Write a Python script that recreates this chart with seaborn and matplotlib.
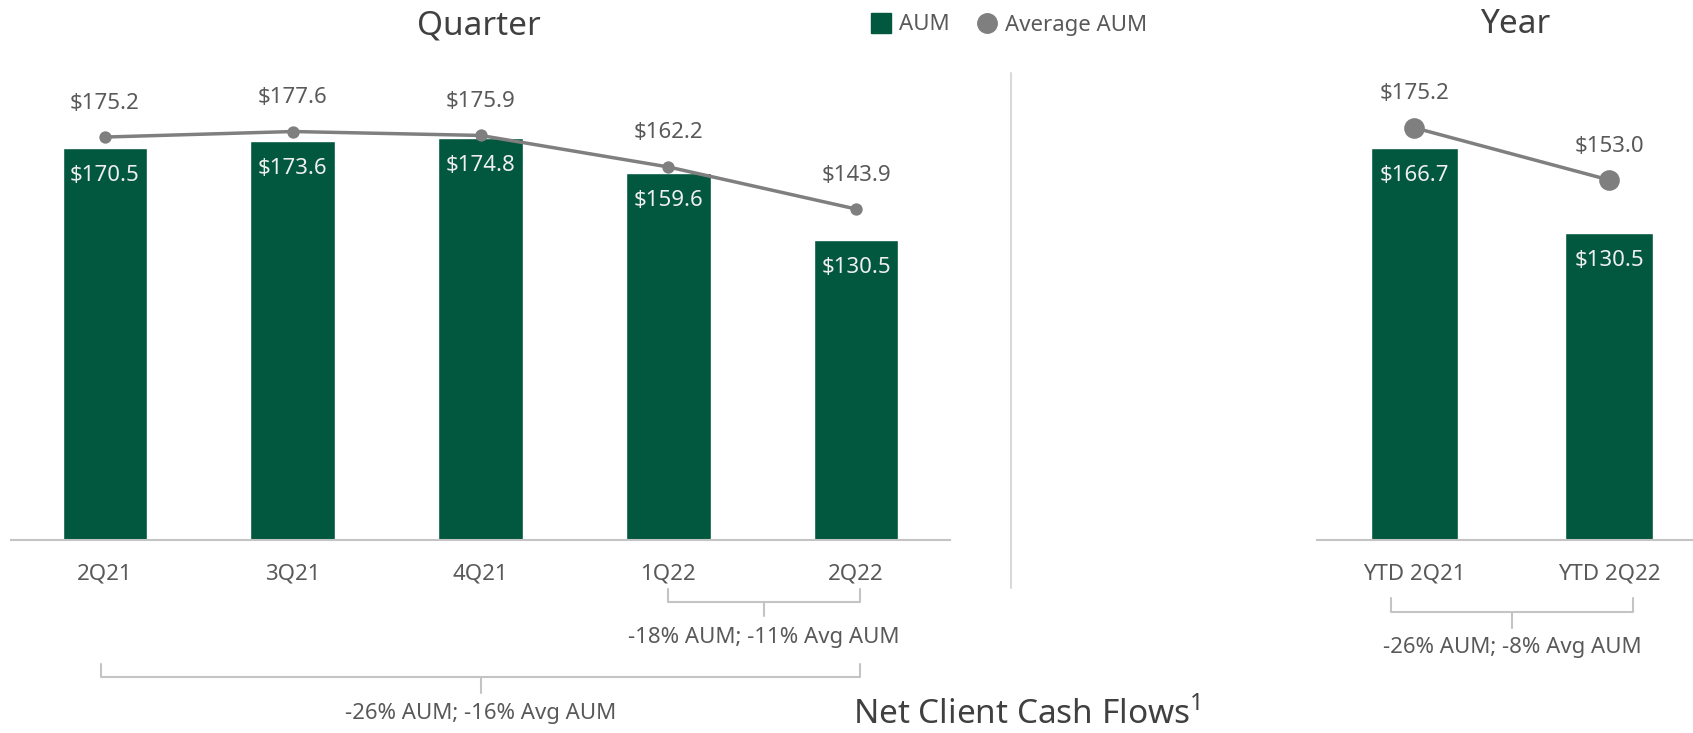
import pandas as pd
import seaborn as sns
import matplotlib.pyplot as plt
from matplotlib.lines import Line2D
from matplotlib.transforms import blended_transform_factory

quarters = ["2Q21", "3Q21", "4Q21", "1Q22", "2Q22"]
aum_q = [170.5, 173.6, 174.8, 159.6, 130.5]
avg_q = [175.2, 177.6, 175.9, 162.2, 143.9]

years = ["YTD 2Q21", "YTD 2Q22"]
aum_y = [166.7, 130.5]
avg_y = [175.2, 153.0]

change_q_short = "-18% AUM; -11% Avg AUM"
change_q_long = "-26% AUM; -16% Avg AUM"
change_y = "-26% AUM; -8% Avg AUM"

GREEN = "#02573F"
GRAY = "#7F7F7F"
TXT = "#595959"
AXIS = "#C4C4C4"

sns.set_theme(style="white")
plt.rcParams["font.family"] = ["Noto Sans", "DejaVu Sans"]
plt.rcParams["font.weight"] = "light"
plt.rcParams["mathtext.fontset"] = "custom"
plt.rcParams["mathtext.rm"] = "Noto Sans"

W, H = 1693, 733
fig = plt.figure(figsize=(W / 100, H / 100), dpi=100)


def fy(px):
    return 1 - px / H


ax1 = fig.add_axes([11 / W, fy(540), 939 / W, 480 / H])
ax2 = fig.add_axes([1317 / W, fy(540), (W - 1317) / W, 480 / H])


def panel(ax, cats, aum, avg, ymax, msize, xlim):
    df = pd.DataFrame({"cat": cats, "aum": aum, "avg": avg})
    sns.barplot(data=df, x="cat", y="aum", color=GREEN, width=0.45,
                saturation=1, ax=ax)
    sns.pointplot(data=df, x="cat", y="avg", color=GRAY, errorbar=None,
                  markersize=msize, linewidth=2.5, ax=ax)
    ax.set_ylim(0, ymax)
    ax.set_xlim(*xlim)
    for s in ["top", "left", "right"]:
        ax.spines[s].set_visible(False)
    ax.spines["bottom"].set_color(AXIS)
    ax.spines["bottom"].set_linewidth(1.5)
    ax.set_yticks([])
    ax.set_xlabel("")
    ax.set_ylabel("")
    ax.tick_params(axis="x", length=0, pad=17, labelsize=16, labelcolor=TXT)
    for i, (a, v) in enumerate(zip(aum, avg)):
        ax.annotate(f"${a:.1f}", (i, a), xytext=(0, -28), textcoords="offset pixels",
                    ha="center", va="center", fontsize=16, color="#EFEFEF")
        ax.annotate(f"${v:.1f}", (i, v), xytext=(0, 34), textcoords="offset pixels",
                    ha="center", va="center", fontsize=16, color=TXT)


panel(ax1, quarters, aum_q, avg_q, 208.7, 7, (-0.5, 4.5))
panel(ax2, years, aum_y, avg_y, 204, 13, (-0.5, 1.43))


def bracket(ax, x0, x1, ytop, ybar, ytick, text, ytext):
    tr = blended_transform_factory(ax.transData, fig.transFigure)
    xm = (x0 + x1) / 2
    ax.plot([x0, x0, x1, x1], [fy(ytop), fy(ybar), fy(ybar), fy(ytop)],
            color=AXIS, lw=1.5, transform=tr, clip_on=False)
    ax.plot([xm, xm], [fy(ybar), fy(ytick)], color=AXIS, lw=1.5,
            transform=tr, clip_on=False)
    ax.text(xm, fy(ytext), text, transform=tr, ha="center", va="center",
            fontsize=16, color=TXT)


bracket(ax1, 3, 4.02, 589, 602, 616, change_q_short, 637)
bracket(ax1, -0.02, 4.02, 664, 677, 693, change_q_long, 713)
bracket(ax2, -0.12, 1.12, 598, 612, 628, change_y, 647)

fig.add_artist(Line2D([1011 / W, 1011 / W], [fy(73), fy(588)], color="#D9D9D9", lw=1.5))

fig.text(479 / W, fy(35), "Quarter", ha="center", va="baseline", fontsize=24, color="#404040")
fig.text(1515 / W, fy(33), "Year", ha="center", va="baseline", fontsize=24, color="#404040")
fig.text(853 / W, fy(724), r"Net Client Cash Flows$^{\mathrm{1}}$", ha="left", va="baseline",
         fontsize=24, color="#404040")

handles = [Line2D([], [], marker="s", ls="", color=GREEN, markersize=14),
           Line2D([], [], marker="o", ls="", color=GRAY, markersize=14)]
fig.legend(handles, ["AUM", "Average AUM"], loc="center left",
           bbox_to_anchor=(870 / W, fy(25)), ncol=2, frameon=False, fontsize=16,
           handlelength=1.0, handletextpad=0.3, columnspacing=1.2,
           borderpad=0, borderaxespad=0, labelcolor=TXT)

fig.savefig("out.png", dpi=100)
